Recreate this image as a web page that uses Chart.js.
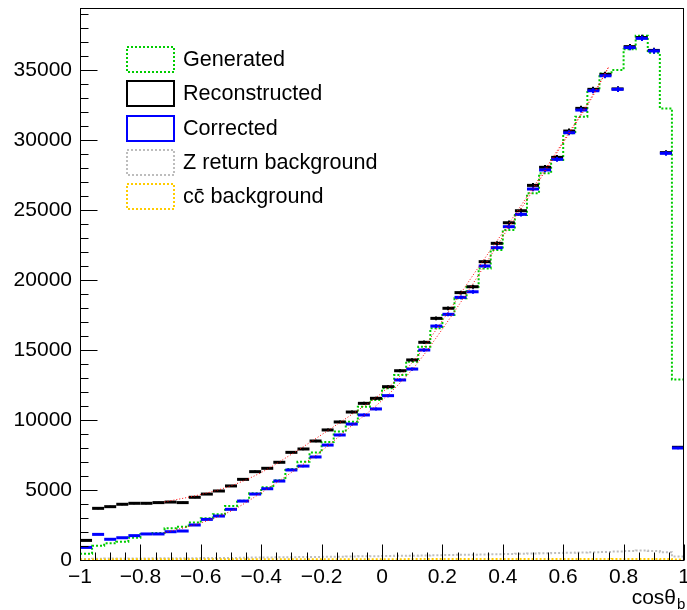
<!DOCTYPE html>
<html>
<head>
<meta charset="utf-8">
<script src="https://cdn.jsdelivr.net/npm/chart.js@4.4.1/dist/chart.umd.min.js"></script>
<style>
html,body{margin:0;padding:0;background:#fff;}
#wrap{position:relative;width:687px;height:610px;}
</style>
</head>
<body>
<div id="wrap"><canvas id="c" width="687" height="610"></canvas></div>
<script>
// ---- data ----
const binCenters = [-0.98,-0.94,-0.90,-0.86,-0.82,-0.78,-0.74,-0.70,-0.66,-0.62,
  -0.58,-0.54,-0.50,-0.46,-0.42,-0.38,-0.34,-0.30,-0.26,-0.22,
  -0.18,-0.14,-0.10,-0.06,-0.02,0.02,0.06,0.10,0.14,0.18,
  0.22,0.26,0.30,0.34,0.38,0.42,0.46,0.50,0.54,0.58,
  0.62,0.66,0.70,0.74,0.78,0.82,0.86,0.90,0.94,0.98];

const generated = [450,1020,1190,1310,1590,1860,1930,2260,2380,2670,
  2980,3260,3860,4240,4760,5190,5700,6500,7020,7670,
  8430,9170,9880,10950,11430,12260,13210,14170,15240,16550,
  17500,18690,19520,20830,22140,23570,24640,26190,27620,28570,
  30480,31670,33570,34760,35000,36480,37450,36240,32260,12900];

const reconstructed = [1400,3690,3810,3980,4050,4050,4100,4140,4100,4480,
  4710,4930,5290,5760,6310,6550,6980,7690,7930,8500,
  9290,9860,10570,11190,11550,12380,13520,14290,15550,17260,
  17980,19100,19520,21310,22620,24090,24950,26760,28050,28760,
  30640,32260,33620,34690,33650,36670,37320,36400,29100,8050];

const corrected = [900,1830,1480,1590,1740,1860,1860,2020,2070,2500,
  2900,3140,3620,4210,4710,5090,5640,6430,6710,7360,
  8210,8930,9710,10360,10790,11740,12860,13640,15000,16710,
  17550,18760,19160,21000,22310,23810,24690,26500,27860,28620,
  30520,32140,33520,34590,33620,36600,37260,36360,29050,8000];

const zReturnBkg = [80,90,100,100,110,110,120,120,130,130,
  140,150,150,160,170,180,190,200,210,220,
  230,240,250,260,270,280,300,310,320,340,
  350,370,380,400,410,430,450,470,480,500,
  520,540,560,580,600,640,680,650,560,250];

const ccBkg = [40,40,40,45,45,45,45,50,50,50,
  50,50,50,50,55,55,55,55,55,55,
  60,60,60,60,60,60,60,65,65,65,
  65,65,65,70,70,70,70,70,70,75,
  75,75,75,75,80,80,80,80,70,40];

const fitX = [-0.72,-0.6,-0.5,-0.4,-0.3,-0.2,-0.1,0,0.1,0.2,0.3,0.4,0.5,0.6,0.7,0.75];
const fitReco = [4150,4680,5300,6250,7550,8950,10400,11950,14100,17100,20300,23400,26600,29900,33300,35200];
const fitCorr = [1950,2650,3500,4800,6250,7800,9600,11400,13600,16500,19700,23100,26400,29800,33200,35200];

const xTicks = [-1,-0.8,-0.6,-0.4,-0.2,0,0.2,0.4,0.6,0.8,1];
const yTicks = [0,5000,10000,15000,20000,25000,30000,35000];
const legendLabels = ['Generated','Reconstructed','Corrected','Z return background','cc\u0304 background'];
const axisTitle = 'cos\u03B8';
const axisSub = 'b';

// ---- styles ----
const C_GEN = '#00cc00', C_RECO = '#000000', C_CORR = '#0000ff', C_Z = '#bdbdbd', C_CC = '#ffcc00', C_FIT = '#ff0000';
const FONT = '"Liberation Sans", Arial, Helvetica, sans-serif';

const halfW = (binCenters[1] - binCenters[0]) / 2;
function stepPoints(vals) {
  const pts = binCenters.map((c, i) => ({x: c - halfW, y: vals[i]}));
  pts.push({x: binCenters[binCenters.length - 1] + halfW, y: vals[vals.length - 1]});
  return pts;
}
function markerPoints(vals) { return binCenters.map((c, i) => ({x: c, y: vals[i]})); }
function curvePoints(xs, ys) { return xs.map((v, i) => ({x: v, y: ys[i]})); }

const datasets = [
  {label: legendLabels[0], data: stepPoints(generated), borderColor: C_GEN, borderWidth: 2, borderDash: [2, 2],
   stepped: 'before', pointRadius: 0, fill: false, order: 6},
  {label: legendLabels[1], data: markerPoints(reconstructed), showLine: false, pointStyle: 'line', pointRadius: 6,
   pointBorderWidth: 3, pointBorderColor: C_RECO, borderColor: C_RECO, order: 5, errColor: C_RECO},
  {label: legendLabels[2], data: markerPoints(corrected), showLine: false, pointStyle: 'line', pointRadius: 6,
   pointBorderWidth: 3, pointBorderColor: C_CORR, borderColor: C_CORR, order: 4, errColor: C_CORR},
  {label: legendLabels[3], data: stepPoints(zReturnBkg), borderColor: C_Z, borderWidth: 2, borderDash: [2, 2],
   stepped: 'before', pointRadius: 0, fill: false, order: 3},
  {label: legendLabels[4], data: stepPoints(ccBkg), borderColor: C_CC, borderWidth: 2, borderDash: [2, 2],
   stepped: 'before', pointRadius: 0, fill: false, order: 2},
  {label: 'fit reco', data: curvePoints(fitX, fitReco), borderColor: C_FIT, borderWidth: 1, borderDash: [1, 2],
   pointRadius: 0, cubicInterpolationMode: 'monotone', fill: false, order: 1},
  {label: 'fit corr', data: curvePoints(fitX, fitCorr), borderColor: C_FIT, borderWidth: 1, borderDash: [1, 2],
   pointRadius: 0, cubicInterpolationMode: 'monotone', fill: false, order: 0}
];

function fmtX(v) {
  if (Math.abs(v) < 1e-9) return '0';
  const s = String(+Math.abs(v).toFixed(1));
  return (v < 0 ? '\u2212' : '') + s;
}

const decor = {
  id: 'decor',
  afterDatasetDraw(chart, args) {
    const ds = chart.data.datasets[args.index];
    if (!ds.errColor) return;
    const {ctx, scales: {x, y}, chartArea: a} = chart;
    ctx.save();
    ctx.beginPath(); ctx.rect(a.left, a.top, a.right - a.left, a.bottom - a.top); ctx.clip();
    ctx.strokeStyle = ds.errColor; ctx.lineWidth = 2;
    ds.data.forEach(p => {
      const e = Math.sqrt(p.y);
      const px = Math.round(x.getPixelForValue(p.x));
      ctx.beginPath();
      ctx.moveTo(px, y.getPixelForValue(p.y + e));
      ctx.lineTo(px, y.getPixelForValue(p.y - e));
      ctx.stroke();
    });
    ctx.restore();
  },
  afterDraw(chart) {
    const {ctx, chartArea: a, scales: {x, y}} = chart;
    ctx.save();
    // frame
    ctx.strokeStyle = '#000'; ctx.lineWidth = 1; ctx.setLineDash([]);
    const L = Math.round(a.left) + 0.5, T = Math.round(a.top) + 0.5, R = Math.round(a.right) - 0.5, B = Math.round(a.bottom) + 0.5;
    ctx.strokeRect(L, T, R - L, B - T);
    // x ticks (inside, from bottom)
    ctx.beginPath();
    for (let k = 0; k <= 40; k++) {
      const v = -1 + k * 0.05;
      const px = Math.round(x.getPixelForValue(v)) + 0.5;
      const len = (k % 4 === 0) ? 16 : 8;
      ctx.moveTo(px, B); ctx.lineTo(px, B - len);
    }
    // y ticks (inside, from left)
    for (let v = 0; v <= y.max; v += 1000) {
      const py = Math.round(y.getPixelForValue(v)) + 0.5;
      const len = (v % 5000 === 0) ? 17 : 8;
      ctx.moveTo(L, py); ctx.lineTo(L + len, py);
    }
    ctx.stroke();
    // legend
    const boxX = 127, boxW = 47, boxH = 25, top0 = 47, step = 34.3;
    const legStyles = [
      {c: C_GEN, d: [2, 2]}, {c: C_RECO, d: []}, {c: C_CORR, d: []}, {c: C_Z, d: [2, 2]}, {c: C_CC, d: [2, 2]}
    ];
    ctx.font = '21.6px ' + FONT; ctx.textBaseline = 'middle'; ctx.textAlign = 'left'; ctx.fillStyle = '#000';
    legendLabels.forEach((lab, i) => {
      const ty = top0 + i * step;
      ctx.strokeStyle = legStyles[i].c; ctx.lineWidth = 2; ctx.setLineDash(legStyles[i].d);
      ctx.strokeRect(boxX, Math.round(ty), boxW, boxH);
      ctx.setLineDash([]);
      ctx.fillText(lab, 183, Math.round(ty) + boxH / 2 + 1);
    });
    // axis title
    ctx.textBaseline = 'alphabetic'; ctx.textAlign = 'right';
    ctx.font = '21px ' + FONT;
    ctx.fillText(axisTitle, 676, 604);
    ctx.textAlign = 'left'; ctx.font = '15px ' + FONT;
    ctx.fillText(axisSub, 677, 609);
    ctx.restore();
  }
};

new Chart(document.getElementById('c'), {
  type: 'line',
  data: {datasets},
  options: {
    responsive: false, animation: false, devicePixelRatio: 1, events: [],
    layout: {autoPadding: false, padding: {top: 8, right: 3, left: 0, bottom: 0}},
    plugins: {legend: {display: false}, tooltip: {enabled: false}},
    scales: {
      x: {
        type: 'linear', min: -1, max: 1, bounds: 'data',
        afterFit(s) { s.height = 50; s.paddingLeft = 0; s.paddingRight = 0; },
        afterBuildTicks(s) { s.ticks = xTicks.map(v => ({value: v})); },
        grid: {display: false, drawTicks: false}, border: {display: false},
        ticks: {font: {family: FONT, size: 21}, color: '#000', padding: 5, maxRotation: 0, autoSkip: false,
          callback: v => fmtX(v)}
      },
      y: {
        type: 'linear', min: 0, max: 39430, bounds: 'data',
        afterFit(s) { s.width = 80; s.paddingTop = 0; s.paddingBottom = 0; },
        afterBuildTicks(s) { s.ticks = yTicks.map(v => ({value: v})); },
        grid: {display: false, drawTicks: false}, border: {display: false},
        ticks: {font: {family: FONT, size: 21}, color: '#000', padding: 8, autoSkip: false,
          callback: v => String(v)}
      }
    }
  },
  plugins: [decor]
});
</script>
</body>
</html>
